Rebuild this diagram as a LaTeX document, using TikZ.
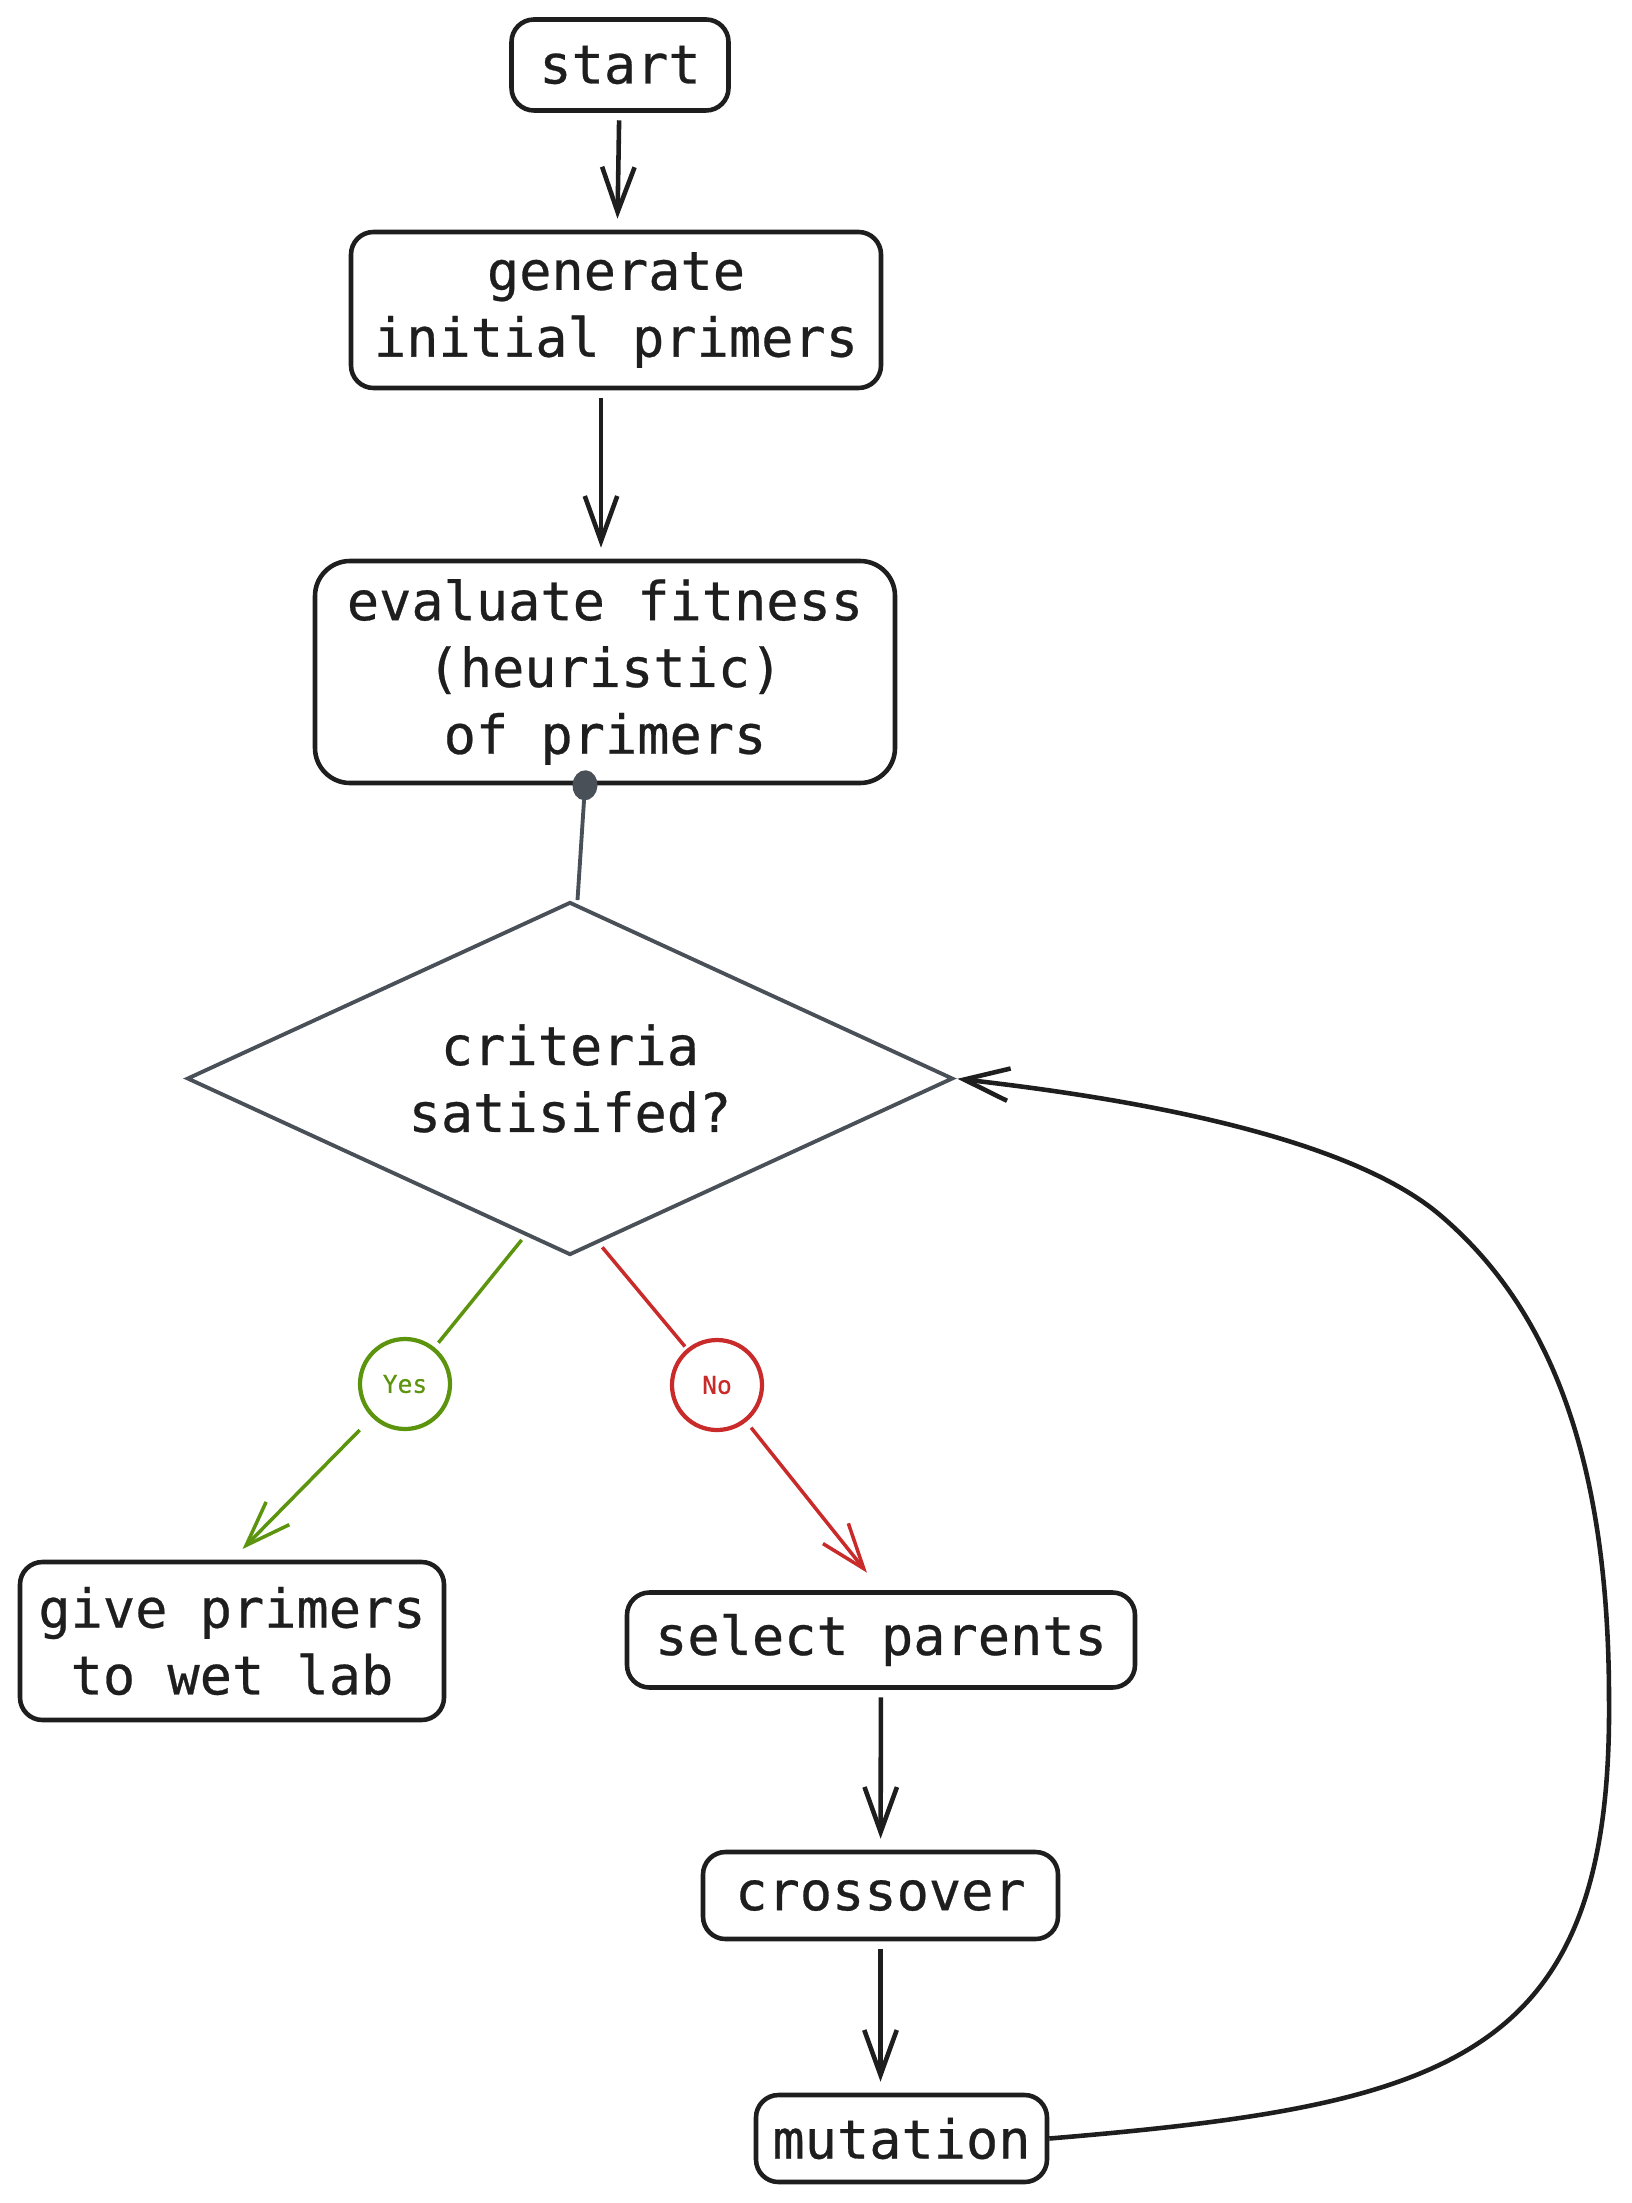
\documentclass[tikz,border=0pt]{standalone}
\usepackage{fontspec}
\newfontfamily\sketchfont[FakeBold=0.5]{DejaVu Sans Mono}
\usetikzlibrary{arrows.meta,shapes.geometric}
\definecolor{ink}{HTML}{1E1E1E}
\definecolor{slate}{HTML}{495057}
\definecolor{yesgreen}{HTML}{5C940D}
\definecolor{nored}{HTML}{C92A2A}
\begin{document}
\begin{tikzpicture}[
  font=\sketchfont\fontsize{30.5}{38}\selectfont,
  >={Straight Barb[length=0.9cm,width=0.65cm]},
  box/.style={draw=ink, text=ink, line width=2.6pt, rounded corners=0.45cm, align=center, inner sep=0pt},
  decision/.style={diamond, shape aspect=2.17, draw=slate, text=ink, line width=2.2pt, align=center, inner sep=0pt},
  branch/.style={circle, line width=2.4pt, inner sep=0pt, minimum size=1.8cm, font=\sketchfont\fontsize{14}{16}\selectfont},
  flow/.style={->, draw=ink, line width=2.6pt, shorten <=0.15cm, shorten >=0.22cm},
  link/.style={line width=2pt}
]
\path[use as bounding box] (0,0) rectangle (32.62,-44.06);

% main column
\node[box, minimum width=4.34cm, minimum height=1.82cm] (start) at (12.4,-1.3) {start};
\node[box, minimum width=10.6cm, minimum height=3.12cm] (gen) at (12.32,-6.2) {generate\\initial primers};
\node[box, rounded corners=0.7cm, minimum width=11.6cm, minimum height=4.44cm] (eval) at (12.1,-13.44)
  {evaluate fitness\\(heuristic)\\of primers};
\node[decision, minimum width=15.32cm, minimum height=7.06cm] (dia) at (11.4,-21.57) {criteria\\satisifed?};

% branches
\node[branch, draw=yesgreen, text=yesgreen] (yes) at (8.1,-27.68) {Yes};
\node[branch, draw=nored, text=nored] (no) at (14.34,-27.7) {No};
\node[box, minimum width=8.48cm, minimum height=3.16cm] (give) at (4.64,-32.82) {give primers\\to wet lab};
\node[box, minimum width=10.16cm, minimum height=1.9cm] (sel) at (17.62,-32.8) {select parents};
\node[box, minimum width=7.1cm, minimum height=1.74cm] (cross) at (17.61,-37.91) {crossover};
\node[box, minimum width=5.82cm, minimum height=1.74cm] (mut) at (18.03,-42.77) {mutation};

\draw[flow] (start) -- (gen);
\draw[flow] ([xshift=-0.3cm]gen.south) -- ([xshift=-0.3cm]gen.south |- eval.north);
\draw[draw=slate, fill=slate, line width=2.2pt, {Circle[length=0.6cm,width=0.5cm]}-, shorten <=-0.3cm]
  ([xshift=-0.4cm]eval.south) -- ([xshift=0.15cm]dia.north);

\draw[link, draw=yesgreen, shorten <=0.1cm, shorten >=0.12cm] (dia.254) -- (yes);
\draw[link, draw=yesgreen, ->, shorten <=0.35cm, shorten >=0.3cm] (yes) -- (give.north);
\draw[link, draw=nored, shorten <=0.1cm, shorten >=0.06cm] (dia.280) -- (no);
\draw[link, draw=nored, ->, shorten <=0.15cm, shorten >=0.45cm] (no) -- (sel.north);

\draw[flow] (sel) -- (cross);
\draw[flow] (cross.south) -- (cross.south |- mut.north);

% loop back
\draw[flow, shorten <=0pt, shorten >=0.05cm] (mut.east)
  .. controls (29.0,-42.1) and (32.24,-41.2) .. (32.18,-34.0)
  .. controls (32.18,-28.8) and (30.8,-26.0) .. (28.8,-24.3)
  .. controls (26.8,-22.6) and (22.0,-21.9) .. (dia.east);
\end{tikzpicture}
\end{document}
